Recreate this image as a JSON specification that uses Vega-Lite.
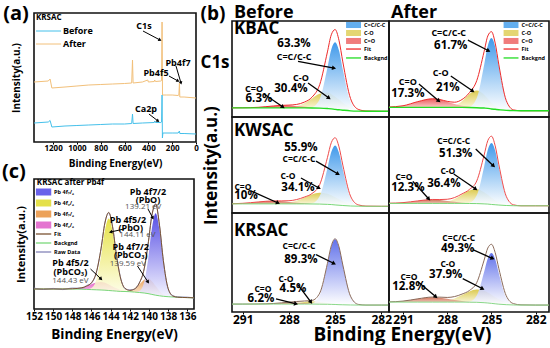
{
"$schema":"https://vega.github.io/schema/vega-lite/v6.json",
"background":"white",
"padding":{"left":1,"top":2,"right":0,"bottom":0},
"config":{
 "font":"Open Sans",
 "view":{"stroke":"#111111","strokeWidth":1.6},
 "axis":{"labelFontWeight":"bold","titleFontWeight":"bold","labelColor":"#000000","titleColor":"#000000","grid":false,"domain":false,"tickColor":"#000000","labelFlush":false,"labelOverlap":false},
 "text":{"fontWeight":"bold","color":"#000000"}
},
"datasets":{
 "surv":[
  {"s":"After","e":1360,"I":60},{"s":"After","e":1240,"I":61},{"s":"After","e":1225,"I":63},{"s":"After","e":1210,"I":54},{"s":"After","e":1100,"I":55},{"s":"After","e":1000,"I":56},{"s":"After","e":900,"I":57},{"s":"After","e":800,"I":57.5},{"s":"After","e":700,"I":58},{"s":"After","e":600,"I":58.5},{"s":"After","e":540,"I":59},{"s":"After","e":533,"I":82},{"s":"After","e":528,"I":59},{"s":"After","e":450,"I":60},{"s":"After","e":405,"I":62},{"s":"After","e":400,"I":60},{"s":"After","e":350,"I":60.5},{"s":"After","e":347,"I":62},{"s":"After","e":340,"I":60.5},{"s":"After","e":295,"I":61},{"s":"After","e":289,"I":61.5},{"s":"After","e":285,"I":120},{"s":"After","e":281,"I":47},{"s":"After","e":250,"I":47},{"s":"After","e":200,"I":47},{"s":"After","e":150,"I":46.5},{"s":"After","e":144,"I":47},{"s":"After","e":139,"I":59},{"s":"After","e":136,"I":45},{"s":"After","e":100,"I":45},{"s":"After","e":50,"I":44.5},{"s":"After","e":0,"I":44},
  {"s":"Before","e":1360,"I":19},{"s":"Before","e":1240,"I":20},{"s":"Before","e":1225,"I":21.5},{"s":"Before","e":1210,"I":15},{"s":"Before","e":1100,"I":16},{"s":"Before","e":1000,"I":16.5},{"s":"Before","e":900,"I":17},{"s":"Before","e":800,"I":17.5},{"s":"Before","e":700,"I":18},{"s":"Before","e":600,"I":18},{"s":"Before","e":540,"I":18.5},{"s":"Before","e":533,"I":28},{"s":"Before","e":528,"I":18.5},{"s":"Before","e":450,"I":19},{"s":"Before","e":350,"I":19.5},{"s":"Before","e":347,"I":21},{"s":"Before","e":340,"I":19.5},{"s":"Before","e":295,"I":19.5},{"s":"Before","e":289,"I":20},{"s":"Before","e":285,"I":47},{"s":"Before","e":282,"I":4},{"s":"Before","e":278,"I":9},{"s":"Before","e":200,"I":9},{"s":"Before","e":150,"I":9},{"s":"Before","e":139,"I":11},{"s":"Before","e":136,"I":8.5},{"s":"Before","e":100,"I":8.5},{"s":"Before","e":0,"I":8}
 ],
 "aann":[
  {"k":"big","t":"(a)","e":1511,"I":128.5},
  {"k":"lab","t":"KRSAC","e":1343,"I":124},
  {"k":"ann","t":"C1s","e":437,"I":116},
  {"k":"ann","t":"Pb4f7","e":151,"I":79},
  {"k":"ann","t":"Pb4f5","e":336,"I":69},
  {"k":"ann","t":"Ca2p","e":420,"I":33}
 ],
 "aleg":[{"s":"Before","I":111},{"s":"After","I":98}],
 "aarr":[
  {"e":445,"I":111,"e2":302,"I2":102,"a":118},
  {"e":168,"I":76,"e2":126,"I2":59,"a":164},
  {"e":227,"I":66,"e2":151,"I2":61,"a":119},
  {"e":395,"I":28,"e2":319,"I2":21,"a":128}
 ],
 "pb":[
  {"e":152,"bg":20,"y":20,"pk":20,"o":20,"b":20,"fit":20,"raw":21},
  {"e":151,"bg":20,"y":20,"pk":20,"o":20,"b":20,"fit":20,"raw":19.5},
  {"e":150,"bg":20,"y":20,"pk":20,"o":20,"b":20,"fit":20,"raw":20.6},
  {"e":149,"bg":20,"y":20,"pk":20,"o":20,"b":20,"fit":20,"raw":19.4},
  {"e":148,"bg":20,"y":20,"pk":20.2,"o":20,"b":20,"fit":20.2,"raw":21.0},
  {"e":147,"bg":19.8,"y":19.8,"pk":21.3,"o":19.8,"b":19.8,"fit":21.3,"raw":20.8},
  {"e":146.5,"bg":19.6,"y":19.7,"pk":22.8,"o":19.6,"b":19.6,"fit":22.9,"raw":23.5},
  {"e":146,"bg":19.4,"y":21.0,"pk":24.7,"o":19.4,"b":19.4,"fit":26.3,"raw":25.8},
  {"e":145.5,"bg":19.2,"y":28.9,"pk":26.4,"o":19.2,"b":19.2,"fit":36.1,"raw":36.8},
  {"e":145,"bg":19.0,"y":52.8,"pk":27.0,"o":19.0,"b":19.0,"fit":60.8,"raw":60.0},
  {"e":144.6,"bg":18.8,"y":78.4,"pk":26.3,"o":18.8,"b":18.8,"fit":85.9,"raw":86.5},
  {"e":144.2,"bg":18.5,"y":90.5,"pk":24.6,"o":18.5,"b":18.5,"fit":96.6,"raw":96.0},
  {"e":143.8,"bg":18.2,"y":77.8,"pk":22.6,"o":18.2,"b":18.2,"fit":82.2,"raw":82.8},
  {"e":143.4,"bg":17.9,"y":51.7,"pk":20.7,"o":17.9,"b":17.9,"fit":54.5,"raw":54.0},
  {"e":143,"bg":17.6,"y":30.7,"pk":19.1,"o":17.6,"b":17.6,"fit":32.2,"raw":32.8},
  {"e":142.5,"bg":17.5,"y":19.9,"pk":18.1,"o":17.7,"b":17.5,"fit":20.7,"raw":20.2},
  {"e":142,"bg":17.3,"y":17.5,"pk":17.5,"o":18.2,"b":17.3,"fit":18.6,"raw":19.2},
  {"e":141.5,"bg":16.9,"y":16.9,"pk":16.9,"o":20.1,"b":17.0,"fit":20.2,"raw":19.8},
  {"e":141,"bg":16.5,"y":16.5,"pk":16.5,"o":24.5,"b":18.0,"fit":26.0,"raw":26.5},
  {"e":140.5,"bg":16.0,"y":16.0,"pk":16.0,"o":29.2,"b":27.1,"fit":40.3,"raw":39.8},
  {"e":140.1,"bg":15.4,"y":15.4,"pk":15.4,"o":30.4,"b":49.1,"fit":64.1,"raw":64.6},
  {"e":139.7,"bg":14.6,"y":14.6,"pk":14.6,"o":27.8,"b":80.3,"fit":93.5,"raw":93.0},
  {"e":139.3,"bg":13.8,"y":13.8,"pk":13.8,"o":22.9,"b":95.8,"fit":104.9,"raw":105.4},
  {"e":138.9,"bg":13.2,"y":13.2,"pk":13.2,"o":18.1,"b":78.9,"fit":83.8,"raw":83.2},
  {"e":138.5,"bg":12.7,"y":12.7,"pk":12.7,"o":14.7,"b":46.4,"fit":48.4,"raw":48.9},
  {"e":138,"bg":12.3,"y":12.3,"pk":12.3,"o":12.8,"b":20.1,"fit":20.6,"raw":20.1},
  {"e":137.5,"bg":12.0,"y":12.0,"pk":12.0,"o":12.0,"b":12.9,"fit":12.9,"raw":13.4},
  {"e":137,"bg":11.8,"y":11.8,"pk":11.8,"o":11.8,"b":11.8,"fit":11.8,"raw":12.1},
  {"e":136,"bg":11.4,"y":11.4,"pk":11.4,"o":11.4,"b":11.4,"fit":11.4,"raw":11.9},
  {"e":135.3,"bg":11.2,"y":11.2,"pk":11.2,"o":11.2,"b":11.2,"fit":11.2,"raw":10.8}
 ],
 "cann":[
  {"k":"big","t":"(c)","e":154.1,"I":137},
  {"k":"title","t":"KRSAC after Pb4f","e":151.7,"I":126},
  {"k":"lab","t":"Pb 4f7/2","e":140.1,"I":117.5},
  {"k":"lab","t":"(PbO)","e":140.1,"I":109.5},
  {"k":"val","t":"139.21 eV","e":140.6,"I":102.5},
  {"k":"lab","t":"Pb 4f5/2","e":142.2,"I":89.5},
  {"k":"lab","t":"(PbO)","e":141.9,"I":81.5},
  {"k":"val","t":"144.11 eV","e":141.2,"I":74.5},
  {"k":"lab","t":"Pb 4f7/2","e":141.9,"I":62.5},
  {"k":"lab","t":"(PbCO₃)","e":141.9,"I":54.5},
  {"k":"val","t":"139.59 eV","e":142.2,"I":45.5},
  {"k":"lab","t":"Pb 4f5/2","e":148.2,"I":46.5},
  {"k":"lab","t":"(PbCO₃)","e":148.2,"I":37},
  {"k":"val","t":"144.43 eV","e":148.2,"I":28}
 ],
 "carr":[
  {"e":142.6,"I":80,"e2":144.0,"I2":77,"a":257},
  {"e":141.2,"I":43,"e2":140.1,"I2":27,"a":147},
  {"e":140.1,"I":100,"e2":139.6,"I2":91,"a":152},
  {"e":146.1,"I":40,"e2":145.0,"I2":30,"a":134}
 ],
 "cleg":[
  {"c":"b","n":"Pb 4f₇/₂","k":"area","I":117},
  {"c":"y","n":"Pb 4f₅/₂","k":"area","I":106},
  {"c":"o","n":"Pb 4f₇/₂","k":"area","I":95},
  {"c":"p","n":"Pb 4f₅/₂","k":"area","I":84},
  {"c":"fit","n":"Fit","k":"line","I":75},
  {"c":"bg","n":"Backgnd","k":"line","I":66},
  {"c":"raw","n":"Raw Data","k":"line","I":57}
 ],
 "c1s":[
  {"p":"P1","e":292,"bg":9.5,"cc":9.5,"co":9.5,"cdo":9.5,"fit":9.5},
  {"p":"P1","e":291,"bg":9.5,"cc":9.5,"co":9.5,"cdo":9.6,"fit":9.6},
  {"p":"P1","e":290,"bg":9.5,"cc":9.5,"co":9.5,"cdo":10.1,"fit":10.1},
  {"p":"P1","e":289,"bg":9.5,"cc":9.5,"co":9.5,"cdo":11.5,"fit":11.5},
  {"p":"P1","e":288.5,"bg":9.5,"cc":9.5,"co":9.6,"cdo":12.0,"fit":12.1},
  {"p":"P1","e":288,"bg":9.5,"cc":9.5,"co":10.0,"cdo":11.9,"fit":12.4},
  {"p":"P1","e":287.5,"bg":9.5,"cc":9.5,"co":11.3,"cdo":11.3,"fit":13.1},
  {"p":"P1","e":287,"bg":9.5,"cc":9.5,"co":14.4,"cdo":10.6,"fit":15.5},
  {"p":"P1","e":286.5,"bg":9.4,"cc":10.2,"co":19.4,"cdo":9.9,"fit":20.7},
  {"p":"P1","e":286,"bg":9.2,"cc":18.7,"co":24.2,"cdo":9.4,"fit":33.8},
  {"p":"P1","e":285.5,"bg":8.8,"cc":51.3,"co":25.2,"cdo":8.9,"fit":67.8},
  {"p":"P1","e":285.25,"bg":8.5,"cc":70.3,"co":23.8,"cdo":8.5,"fit":85.6},
  {"p":"P1","e":285,"bg":7.9,"cc":77.9,"co":21.1,"cdo":7.9,"fit":91.1},
  {"p":"P1","e":284.75,"bg":7.5,"cc":69.3,"co":18.1,"cdo":7.5,"fit":79.9},
  {"p":"P1","e":284.5,"bg":7.1,"cc":49.6,"co":14.9,"cdo":7.1,"fit":57.4},
  {"p":"P1","e":284,"bg":6.4,"cc":15.9,"co":9.8,"cdo":6.4,"fit":19.3},
  {"p":"P1","e":283.5,"bg":6.1,"cc":6.9,"co":7.2,"cdo":6.1,"fit":8.0},
  {"p":"P1","e":283,"bg":6.0,"cc":6.0,"co":6.3,"cdo":6.0,"fit":6.3},
  {"p":"P1","e":282,"bg":6,"cc":6,"co":6,"cdo":6,"fit":6},
  {"p":"P1","e":281,"bg":6,"cc":6,"co":6,"cdo":6,"fit":6},
  {"p":"P2","e":292,"bg":10,"cc":10,"co":10,"cdo":10.4,"fit":10.4},
  {"p":"P2","e":291,"bg":10,"cc":10,"co":10,"cdo":11.7,"fit":11.7},
  {"p":"P2","e":290,"bg":10,"cc":10,"co":10,"cdo":16.0,"fit":16.0},
  {"p":"P2","e":289,"bg":10,"cc":10,"co":10,"cdo":19.0,"fit":19.0},
  {"p":"P2","e":288.5,"bg":10,"cc":10,"co":10.0,"cdo":18.1,"fit":18.2},
  {"p":"P2","e":288,"bg":10,"cc":10,"co":10.3,"cdo":16.0,"fit":16.3},
  {"p":"P2","e":287.5,"bg":10,"cc":10,"co":11.8,"cdo":13.6,"fit":15.4},
  {"p":"P2","e":287,"bg":10,"cc":10,"co":16.5,"cdo":11.7,"fit":18.2},
  {"p":"P2","e":286.5,"bg":9.9,"cc":10.7,"co":23.9,"cdo":10.6,"fit":25.3},
  {"p":"P2","e":286,"bg":9.7,"cc":19.7,"co":27.7,"cdo":9.9,"fit":37.9},
  {"p":"P2","e":285.5,"bg":9.3,"cc":54.2,"co":23.3,"cdo":9.4,"fit":68.2},
  {"p":"P2","e":285.25,"bg":9.0,"cc":74.3,"co":19.1,"cdo":9.0,"fit":84.4},
  {"p":"P2","e":285,"bg":8.4,"cc":82.4,"co":14.9,"cdo":8.4,"fit":88.9},
  {"p":"P2","e":284.75,"bg":8.0,"cc":73.3,"co":11.7,"cdo":8.0,"fit":77.0},
  {"p":"P2","e":284.5,"bg":7.6,"cc":52.5,"co":9.4,"cdo":7.6,"fit":54.3},
  {"p":"P2","e":284,"bg":6.9,"cc":16.9,"co":7.2,"cdo":6.9,"fit":17.2},
  {"p":"P2","e":283.5,"bg":6.6,"cc":7.4,"co":6.6,"cdo":6.6,"fit":7.4},
  {"p":"P2","e":283,"bg":6.5,"cc":6.5,"co":6.5,"cdo":6.5,"fit":6.5},
  {"p":"P2","e":282,"bg":6.5,"cc":6.5,"co":6.5,"cdo":6.5,"fit":6.5},
  {"p":"P2","e":281,"bg":6.5,"cc":6.5,"co":6.5,"cdo":6.5,"fit":6.5},
  {"p":"P3","e":292,"bg":9.5,"cc":9.5,"co":9.5,"cdo":9.6,"fit":9.6},
  {"p":"P3","e":291,"bg":9.5,"cc":9.5,"co":9.5,"cdo":10.1,"fit":10.1},
  {"p":"P3","e":290,"bg":9.5,"cc":9.5,"co":9.5,"cdo":11.5,"fit":11.5},
  {"p":"P3","e":289,"bg":9.5,"cc":9.5,"co":9.6,"cdo":12.5,"fit":12.6},
  {"p":"P3","e":288.5,"bg":9.5,"cc":9.5,"co":9.9,"cdo":12.2,"fit":12.6},
  {"p":"P3","e":288,"bg":9.5,"cc":9.5,"co":10.8,"cdo":11.5,"fit":12.8},
  {"p":"P3","e":287.5,"bg":9.5,"cc":9.5,"co":12.8,"cdo":10.7,"fit":14.0},
  {"p":"P3","e":287,"bg":9.5,"cc":9.5,"co":16.1,"cdo":10.1,"fit":16.6},
  {"p":"P3","e":286.5,"bg":9.4,"cc":10.1,"co":19.4,"cdo":9.6,"fit":20.3},
  {"p":"P3","e":286,"bg":9.3,"cc":17.7,"co":21.2,"cdo":9.4,"fit":29.6},
  {"p":"P3","e":285.5,"bg":9.0,"cc":46.6,"co":20.1,"cdo":9.0,"fit":57.7},
  {"p":"P3","e":285.25,"bg":8.8,"cc":63.5,"co":18.5,"cdo":8.8,"fit":73.2},
  {"p":"P3","e":285,"bg":8.4,"cc":70.4,"co":16.4,"cdo":8.4,"fit":78.4},
  {"p":"P3","e":284.75,"bg":8.1,"cc":62.8,"co":14.2,"cdo":8.1,"fit":69.0},
  {"p":"P3","e":284.5,"bg":7.8,"cc":45.4,"co":12.3,"cdo":7.8,"fit":49.9},
  {"p":"P3","e":284,"bg":7.3,"cc":15.7,"co":9.3,"cdo":7.3,"fit":17.6},
  {"p":"P3","e":283.5,"bg":7.1,"cc":7.8,"co":7.8,"cdo":7.1,"fit":8.5},
  {"p":"P3","e":283,"bg":7.0,"cc":7.0,"co":7.2,"cdo":7.0,"fit":7.2},
  {"p":"P3","e":282,"bg":7,"cc":7,"co":7,"cdo":7,"fit":7},
  {"p":"P3","e":281,"bg":7,"cc":7,"co":7,"cdo":7,"fit":7},
  {"p":"P4","e":292,"bg":10,"cc":10,"co":10,"cdo":10.2,"fit":10.2},
  {"p":"P4","e":291,"bg":10,"cc":10,"co":10,"cdo":10.8,"fit":10.8},
  {"p":"P4","e":290,"bg":10,"cc":10,"co":10,"cdo":12.6,"fit":12.6},
  {"p":"P4","e":289,"bg":10,"cc":10,"co":10.1,"cdo":14.0,"fit":14.1},
  {"p":"P4","e":288.5,"bg":10,"cc":10,"co":10.4,"cdo":13.6,"fit":14.0},
  {"p":"P4","e":288,"bg":10,"cc":10,"co":11.6,"cdo":12.6,"fit":14.3},
  {"p":"P4","e":287.5,"bg":10,"cc":10,"co":14.5,"cdo":11.6,"fit":16.1},
  {"p":"P4","e":287,"bg":10,"cc":10,"co":19.1,"cdo":10.8,"fit":19.9},
  {"p":"P4","e":286.5,"bg":9.9,"cc":10.6,"co":23.5,"cdo":10.2,"fit":24.5},
  {"p":"P4","e":286,"bg":9.8,"cc":18.4,"co":24.7,"cdo":9.9,"fit":33.4},
  {"p":"P4","e":285.5,"bg":9.5,"cc":48.3,"co":21.5,"cdo":9.5,"fit":60.3},
  {"p":"P4","e":285.25,"bg":9.3,"cc":65.8,"co":18.9,"cdo":9.3,"fit":75.4},
  {"p":"P4","e":285,"bg":8.9,"cc":72.9,"co":16.0,"cdo":8.9,"fit":80.0},
  {"p":"P4","e":284.75,"bg":8.6,"cc":65.1,"co":13.4,"cdo":8.6,"fit":70.0},
  {"p":"P4","e":284.5,"bg":8.3,"cc":47.1,"co":11.3,"cdo":8.3,"fit":50.2},
  {"p":"P4","e":284,"bg":7.8,"cc":16.4,"co":8.8,"cdo":7.8,"fit":17.4},
  {"p":"P4","e":283.5,"bg":7.6,"cc":8.3,"co":7.8,"cdo":7.6,"fit":8.5},
  {"p":"P4","e":283,"bg":7.5,"cc":7.5,"co":7.5,"cdo":7.5,"fit":7.5},
  {"p":"P4","e":282,"bg":7.5,"cc":7.5,"co":7.5,"cdo":7.5,"fit":7.5},
  {"p":"P4","e":281,"bg":7.5,"cc":7.5,"co":7.5,"cdo":7.5,"fit":7.5},
  {"p":"P5","e":292,"bg":8,"cc":8,"co":8,"cdo":8,"fit":8},
  {"p":"P5","e":291,"bg":8,"cc":8,"co":8,"cdo":8,"fit":8},
  {"p":"P5","e":290,"bg":8,"cc":8,"co":8,"cdo":8.1,"fit":8.1},
  {"p":"P5","e":289,"bg":8,"cc":8,"co":8.0,"cdo":8.6,"fit":8.6},
  {"p":"P5","e":288.5,"bg":8,"cc":8,"co":8.1,"cdo":9.1,"fit":9.2},
  {"p":"P5","e":288,"bg":8,"cc":8,"co":8.4,"cdo":9.5,"fit":9.9},
  {"p":"P5","e":287.5,"bg":8,"cc":8,"co":9.2,"cdo":9.4,"fit":10.6},
  {"p":"P5","e":287,"bg":8,"cc":8,"co":10.1,"cdo":9.0,"fit":11.1},
  {"p":"P5","e":286.5,"bg":8.0,"cc":8.7,"co":10.5,"cdo":8.5,"fit":11.7},
  {"p":"P5","e":286,"bg":7.9,"cc":16.8,"co":10.0,"cdo":8.1,"fit":19.1},
  {"p":"P5","e":285.5,"bg":7.8,"cc":47.9,"co":9.0,"cdo":7.9,"fit":49.1},
  {"p":"P5","e":285.25,"bg":7.7,"cc":66.0,"co":8.4,"cdo":7.7,"fit":66.8},
  {"p":"P5","e":285,"bg":7.6,"cc":73.6,"co":8.0,"cdo":7.6,"fit":74.0},
  {"p":"P5","e":284.75,"bg":7.4,"cc":65.7,"co":7.6,"cdo":7.4,"fit":65.9},
  {"p":"P5","e":284.5,"bg":7.3,"cc":47.4,"co":7.4,"cdo":7.3,"fit":47.5},
  {"p":"P5","e":284,"bg":7.1,"cc":16.0,"co":7.1,"cdo":7.1,"fit":16.0},
  {"p":"P5","e":283.5,"bg":7.0,"cc":7.7,"co":7.0,"cdo":7.0,"fit":7.7},
  {"p":"P5","e":283,"bg":7,"cc":7,"co":7,"cdo":7,"fit":7},
  {"p":"P5","e":282,"bg":7,"cc":7,"co":7,"cdo":7,"fit":7},
  {"p":"P5","e":281,"bg":7,"cc":7,"co":7,"cdo":7,"fit":7},
  {"p":"P6","e":292,"bg":10,"cc":10,"co":10,"cdo":10.2,"fit":10.2},
  {"p":"P6","e":291,"bg":10,"cc":10,"co":10,"cdo":11.0,"fit":11.0},
  {"p":"P6","e":290,"bg":10,"cc":10,"co":10,"cdo":13.3,"fit":13.3},
  {"p":"P6","e":289,"bg":10,"cc":10,"co":10.1,"cdo":15.0,"fit":15.1},
  {"p":"P6","e":288.5,"bg":10,"cc":10,"co":10.4,"cdo":14.5,"fit":15.0},
  {"p":"P6","e":288,"bg":10,"cc":10,"co":11.4,"cdo":13.3,"fit":14.7},
  {"p":"P6","e":287.5,"bg":10,"cc":10,"co":13.6,"cdo":12.0,"fit":15.6},
  {"p":"P6","e":287,"bg":10,"cc":10,"co":17.1,"cdo":11.0,"fit":18.1},
  {"p":"P6","e":286.5,"bg":9.9,"cc":10.5,"co":20.8,"cdo":10.3,"fit":21.7},
  {"p":"P6","e":286,"bg":9.8,"cc":16.7,"co":22.7,"cdo":9.9,"fit":29.7},
  {"p":"P6","e":285.5,"bg":9.4,"cc":40.4,"co":21.4,"cdo":9.4,"fit":52.4},
  {"p":"P6","e":285.25,"bg":9.1,"cc":54.1,"co":19.6,"cdo":9.1,"fit":64.6},
  {"p":"P6","e":285,"bg":8.7,"cc":59.7,"co":17.3,"cdo":8.7,"fit":68.4},
  {"p":"P6","e":284.75,"bg":8.3,"cc":53.3,"co":15.0,"cdo":8.3,"fit":60.0},
  {"p":"P6","e":284.5,"bg":7.9,"cc":38.9,"co":12.8,"cdo":7.9,"fit":43.8},
  {"p":"P6","e":284,"bg":7.4,"cc":14.3,"co":9.5,"cdo":7.4,"fit":16.4},
  {"p":"P6","e":283.5,"bg":7.1,"cc":7.7,"co":7.9,"cdo":7.1,"fit":8.4},
  {"p":"P6","e":283,"bg":7.0,"cc":7.0,"co":7.2,"cdo":7.0,"fit":7.2},
  {"p":"P6","e":282,"bg":7,"cc":7,"co":7,"cdo":7,"fit":7},
  {"p":"P6","e":281,"bg":7,"cc":7,"co":7,"cdo":7,"fit":7}
 ],
 "bann":[
  {"p":"P1","k":"name","t":"KBAC","e":291.57,"y":92},
  {"p":"P1","k":"pct","t":"63.3%","e":287.67,"y":76},
  {"p":"P1","k":"lab","t":"C=C/C-C","e":287.67,"y":62.5},
  {"p":"P1","k":"lab","t":"C-O","e":287.22,"y":40.6},
  {"p":"P1","k":"pct","t":"30.4%","e":287.87,"y":29},
  {"p":"P1","k":"lab","t":"C=O","e":290.27,"y":29},
  {"p":"P1","k":"pct","t":"6.3%","e":289.95,"y":18.8},
  {"p":"P1","k":"head","t":"Before","e":291.57,"y":108},
  {"p":"P1","k":"big","t":"(b)","e":292.93,"y":107.5},
  {"p":"P1","k":"c1s","t":"C1s","e":292.8,"y":56},
  {"p":"P2","k":"head","t":"After","e":291.81,"y":108},
  {"p":"P2","k":"lab","t":"C=C/C-C","e":287.9,"y":87.5},
  {"p":"P2","k":"pct","t":"61.7%","e":287.76,"y":74},
  {"p":"P2","k":"lab","t":"C-O","e":288.44,"y":46},
  {"p":"P2","k":"pct","t":"21%","e":287.96,"y":30},
  {"p":"P2","k":"lab","t":"C=O","e":290.67,"y":36.5},
  {"p":"P2","k":"pct","t":"17.3%","e":290.67,"y":24},
  {"p":"P3","k":"name","t":"KWSAC","e":291.57,"y":85.4},
  {"p":"P3","k":"pct","t":"55.9%","e":287.22,"y":67.7},
  {"p":"P3","k":"lab","t":"C=C/C-C","e":287.35,"y":56},
  {"p":"P3","k":"lab","t":"C-O","e":288.06,"y":38.5},
  {"p":"P3","k":"pct","t":"34.1%","e":287.41,"y":26},
  {"p":"P3","k":"lab","t":"C=O","e":290.99,"y":27},
  {"p":"P3","k":"pct","t":"10%","e":290.79,"y":17.7},
  {"p":"P4","k":"lab","t":"C=C/C-C","e":287.56,"y":75},
  {"p":"P4","k":"pct","t":"51.3%","e":287.42,"y":61.5},
  {"p":"P4","k":"lab","t":"C-O","e":287.96,"y":43.75},
  {"p":"P4","k":"pct","t":"36.4%","e":288.23,"y":30},
  {"p":"P4","k":"lab","t":"C=O","e":290.94,"y":37.5},
  {"p":"P4","k":"pct","t":"12.3%","e":290.67,"y":26},
  {"p":"P5","k":"name","t":"KRSAC","e":291.57,"y":82},
  {"p":"P5","k":"lab","t":"C=C/C-C","e":287.35,"y":66.3},
  {"p":"P5","k":"pct","t":"89.3%","e":287.22,"y":53},
  {"p":"P5","k":"lab","t":"C-O","e":288.19,"y":33.7},
  {"p":"P5","k":"pct","t":"4.5%","e":287.74,"y":23.5},
  {"p":"P5","k":"lab","t":"C=O","e":289.69,"y":23.5},
  {"p":"P5","k":"pct","t":"6.2%","e":289.82,"y":13.3},
  {"p":"P6","k":"lab","t":"C=C/C-C","e":287.22,"y":74.5},
  {"p":"P6","k":"pct","t":"49.3%","e":287.29,"y":64},
  {"p":"P6","k":"lab","t":"C-O","e":287.96,"y":48},
  {"p":"P6","k":"pct","t":"37.9%","e":288.1,"y":37.8},
  {"p":"P6","k":"lab","t":"C=O","e":290.6,"y":35.7},
  {"p":"P6","k":"pct","t":"12.8%","e":290.6,"y":25.5}
 ],
 "barr":[
  {"p":"P1","e":287.41,"y":58,"e2":285.07,"y2":51,"a":100},
  {"p":"P1","e":286.76,"y":35.4,"e2":285.4,"y2":19.8,"a":126},
  {"p":"P1","e":289.62,"y":24,"e2":288.39,"y2":10.4,"a":125},
  {"p":"P2","e":286.6,"y":80,"e2":285.2,"y2":69,"a":117},
  {"p":"P2","e":287.76,"y":42.7,"e2":286.27,"y2":27,"a":124},
  {"p":"P2","e":289.92,"y":34.4,"e2":288.57,"y2":16.7,"a":130},
  {"p":"P3","e":286.24,"y":54,"e2":284.81,"y2":40.6,"a":120},
  {"p":"P3","e":287.22,"y":36.5,"e2":286.05,"y2":26,"a":119},
  {"p":"P3","e":290.47,"y":23,"e2":288.71,"y2":10.4,"a":114},
  {"p":"P4","e":286.07,"y":66.7,"e2":284.86,"y2":49,"a":133},
  {"p":"P4","e":287.56,"y":40.6,"e2":286.07,"y2":25,"a":124},
  {"p":"P4","e":290.33,"y":33,"e2":289.25,"y2":14.6,"a":138},
  {"p":"P5","e":286.24,"y":58,"e2":285.07,"y2":49,"a":116},
  {"p":"P5","e":287.41,"y":27.5,"e2":286.57,"y2":10,"a":143},
  {"p":"P5","e":288.84,"y":13.3,"e2":287.54,"y2":8.2,"a":104},
  {"p":"P6","e":286.27,"y":63,"e2":284.92,"y2":54,"a":114},
  {"p":"P6","e":286.95,"y":33.7,"e2":285.6,"y2":23.5,"a":117},
  {"p":"P6","e":289.99,"y":30.6,"e2":288.77,"y2":15.3,"a":130}
 ],
 "bleg":[
  {"c":"cc","n":"C=C/C-C","k":"area","y":95.8},
  {"c":"co","n":"C-O","k":"area","y":87.5},
  {"c":"cdo","n":"C=O","k":"area","y":79.2},
  {"c":"fit","n":"Fit","k":"line","y":70.8},
  {"c":"bg","n":"Backgnd","k":"line","y":61.5}
 ]
},
"resolve":{"scale":{"color":"independent"}},
"concat":[
 {"vconcat":[
  {"width":162,"height":129,
   "layer":[
    {"data":{"name":"surv"},"mark":{"type":"line","strokeWidth":1,"clip":true},
     "encoding":{"x":{"field":"e","type":"quantitative","scale":{"domain":[0,1360],"reverse":true,"nice":false,"zero":false},"axis":{"values":[1200,1000,800,600,400,200,0],"format":"d","title":"Binding Energy(eV)","labelFontSize":8,"titleFontSize":10,"tickSize":2,"labelPadding":0,"titlePadding":6}},
      "y":{"field":"I","type":"quantitative","scale":{"domain":[0,129],"nice":false,"zero":false},"axis":{"title":"Intensity(a.u.)","labels":false,"ticks":false,"titleFontSize":10,"titlePadding":13}},
      "color":{"field":"s","type":"nominal","scale":{"domain":["Before","After"],"range":["#45c0ea","#f2c07a"]},"legend":null}}},
    {"data":{"name":"aleg"},"mark":{"type":"rule","strokeWidth":1},
     "encoding":{"x":{"datum":1343,"type":"quantitative","scale":{"domain":[0,1360],"reverse":true,"nice":false,"zero":false},"axis":{"values":[1200,1000,800,600,400,200,0],"format":"d","title":"Binding Energy(eV)","labelFontSize":8,"titleFontSize":10,"tickSize":2,"labelPadding":0,"titlePadding":6}},"x2":{"datum":1133},
      "y":{"field":"I","type":"quantitative","scale":{"domain":[0,129],"nice":false,"zero":false},"axis":{"title":"Intensity(a.u.)","labels":false,"ticks":false,"titleFontSize":10,"titlePadding":13}},
      "color":{"field":"s","type":"nominal","scale":{"domain":["Before","After"],"range":["#45c0ea","#f2c07a"]},"legend":null}}},
    {"data":{"name":"aleg"},"mark":{"type":"text","align":"left","baseline":"middle","fontSize":9},
     "encoding":{"x":{"datum":1117,"type":"quantitative","scale":{"domain":[0,1360],"reverse":true,"nice":false,"zero":false},"axis":{"values":[1200,1000,800,600,400,200,0],"format":"d","title":"Binding Energy(eV)","labelFontSize":8,"titleFontSize":10,"tickSize":2,"labelPadding":0,"titlePadding":6}},
      "y":{"field":"I","type":"quantitative","scale":{"domain":[0,129],"nice":false,"zero":false},"axis":{"title":"Intensity(a.u.)","labels":false,"ticks":false,"titleFontSize":10,"titlePadding":13}},"text":{"field":"s"}}},
    {"data":{"name":"aann"},"transform":[{"filter":"datum.k=='ann'"}],"mark":{"type":"text","align":"center","baseline":"middle","fontSize":9},
     "encoding":{"x":{"field":"e","type":"quantitative","scale":{"domain":[0,1360],"reverse":true,"nice":false,"zero":false},"axis":{"values":[1200,1000,800,600,400,200,0],"format":"d","title":"Binding Energy(eV)","labelFontSize":8,"titleFontSize":10,"tickSize":2,"labelPadding":0,"titlePadding":6}},
      "y":{"field":"I","type":"quantitative","scale":{"domain":[0,129],"nice":false,"zero":false},"axis":{"title":"Intensity(a.u.)","labels":false,"ticks":false,"titleFontSize":10,"titlePadding":13}},"text":{"field":"t"}}},
    {"data":{"name":"aann"},"transform":[{"filter":"datum.k=='lab'"}],"mark":{"type":"text","align":"left","baseline":"middle","fontSize":8},
     "encoding":{"x":{"field":"e","type":"quantitative","scale":{"domain":[0,1360],"reverse":true,"nice":false,"zero":false},"axis":{"values":[1200,1000,800,600,400,200,0],"format":"d","title":"Binding Energy(eV)","labelFontSize":8,"titleFontSize":10,"tickSize":2,"labelPadding":0,"titlePadding":6}},
      "y":{"field":"I","type":"quantitative","scale":{"domain":[0,129],"nice":false,"zero":false},"axis":{"title":"Intensity(a.u.)","labels":false,"ticks":false,"titleFontSize":10,"titlePadding":13}},"text":{"field":"t"}}},
    {"data":{"name":"aann"},"transform":[{"filter":"datum.k=='big'"}],"mark":{"type":"text","align":"center","baseline":"middle","fontSize":20},
     "encoding":{"x":{"field":"e","type":"quantitative","scale":{"domain":[0,1360],"reverse":true,"nice":false,"zero":false},"axis":{"values":[1200,1000,800,600,400,200,0],"format":"d","title":"Binding Energy(eV)","labelFontSize":8,"titleFontSize":10,"tickSize":2,"labelPadding":0,"titlePadding":6}},
      "y":{"field":"I","type":"quantitative","scale":{"domain":[0,129],"nice":false,"zero":false},"axis":{"title":"Intensity(a.u.)","labels":false,"ticks":false,"titleFontSize":10,"titlePadding":13}},"text":{"field":"t"}}},
    {"data":{"name":"aarr"},"mark":{"type":"rule","strokeWidth":1,"color":"#000000"},
     "encoding":{"x":{"field":"e","type":"quantitative","scale":{"domain":[0,1360],"reverse":true,"nice":false,"zero":false},"axis":{"values":[1200,1000,800,600,400,200,0],"format":"d","title":"Binding Energy(eV)","labelFontSize":8,"titleFontSize":10,"tickSize":2,"labelPadding":0,"titlePadding":6}},"x2":{"field":"e2"},
      "y":{"field":"I","type":"quantitative","scale":{"domain":[0,129],"nice":false,"zero":false},"axis":{"title":"Intensity(a.u.)","labels":false,"ticks":false,"titleFontSize":10,"titlePadding":13}},"y2":{"field":"I2"}}},
    {"data":{"name":"aarr"},"mark":{"type":"point","shape":"triangle-up","filled":true,"size":14,"color":"#000000","opacity":1},
     "encoding":{"x":{"field":"e2","type":"quantitative","scale":{"domain":[0,1360],"reverse":true,"nice":false,"zero":false},"axis":{"values":[1200,1000,800,600,400,200,0],"format":"d","title":"Binding Energy(eV)","labelFontSize":8,"titleFontSize":10,"tickSize":2,"labelPadding":0,"titlePadding":6}},
      "y":{"field":"I2","type":"quantitative","scale":{"domain":[0,129],"nice":false,"zero":false},"axis":{"title":"Intensity(a.u.)","labels":false,"ticks":false,"titleFontSize":10,"titlePadding":13}},"angle":{"field":"a","type":"quantitative","scale":null}}}
   ]},
  {"width":160,"height":130,
   "layer":[
    {"data":{"name":"pb"},"mark":{"type":"area","interpolate":"monotone","opacity":0.85,"clip":true,"fill":{"gradient":"linear","x1":0,"y1":0,"x2":0,"y2":1,"stops":[{"offset":0,"color":"#e048c0"},{"offset":1,"color":"#fff0fb"}]}},
     "encoding":{"x":{"field":"e","type":"quantitative","scale":{"domain":[135.3,152],"reverse":true,"nice":false,"zero":false},"axis":{"values":[152,150,148,146,144,142,140,138,136],"title":"Binding Energy(eV)","labelFontSize":10,"titleFontSize":13.5,"tickSize":2,"labelPadding":0,"titlePadding":6}},
      "y":{"field":"pk","type":"quantitative","scale":{"domain":[0,130],"nice":false,"zero":false},"axis":{"title":"Intensity(a.u.)","labels":false,"ticks":false,"titleFontSize":11,"titlePadding":8}},"y2":{"field":"bg"}}},
    {"data":{"name":"pb"},"mark":{"type":"area","interpolate":"monotone","opacity":0.85,"clip":true,"fill":{"gradient":"linear","x1":0,"y1":0,"x2":0,"y2":1,"stops":[{"offset":0,"color":"#e8903a"},{"offset":1,"color":"#fff6ea"}]}},
     "encoding":{"x":{"field":"e","type":"quantitative","scale":{"domain":[135.3,152],"reverse":true,"nice":false,"zero":false},"axis":{"values":[152,150,148,146,144,142,140,138,136],"title":"Binding Energy(eV)","labelFontSize":10,"titleFontSize":13.5,"tickSize":2,"labelPadding":0,"titlePadding":6}},
      "y":{"field":"o","type":"quantitative","scale":{"domain":[0,130],"nice":false,"zero":false},"axis":{"title":"Intensity(a.u.)","labels":false,"ticks":false,"titleFontSize":11,"titlePadding":8}},"y2":{"field":"bg"}}},
    {"data":{"name":"pb"},"mark":{"type":"area","interpolate":"monotone","opacity":0.85,"clip":true,"fill":{"gradient":"linear","x1":0,"y1":0,"x2":0,"y2":1,"stops":[{"offset":0,"color":"#e2dc28"},{"offset":1,"color":"#fffff0"}]}},
     "encoding":{"x":{"field":"e","type":"quantitative","scale":{"domain":[135.3,152],"reverse":true,"nice":false,"zero":false},"axis":{"values":[152,150,148,146,144,142,140,138,136],"title":"Binding Energy(eV)","labelFontSize":10,"titleFontSize":13.5,"tickSize":2,"labelPadding":0,"titlePadding":6}},
      "y":{"field":"y","type":"quantitative","scale":{"domain":[0,130],"nice":false,"zero":false},"axis":{"title":"Intensity(a.u.)","labels":false,"ticks":false,"titleFontSize":11,"titlePadding":8}},"y2":{"field":"bg"}}},
    {"data":{"name":"pb"},"mark":{"type":"area","interpolate":"monotone","opacity":0.85,"clip":true,"fill":{"gradient":"linear","x1":0,"y1":0,"x2":0,"y2":1,"stops":[{"offset":0,"color":"#3a30e0"},{"offset":1,"color":"#f4f4ff"}]}},
     "encoding":{"x":{"field":"e","type":"quantitative","scale":{"domain":[135.3,152],"reverse":true,"nice":false,"zero":false},"axis":{"values":[152,150,148,146,144,142,140,138,136],"title":"Binding Energy(eV)","labelFontSize":10,"titleFontSize":13.5,"tickSize":2,"labelPadding":0,"titlePadding":6}},
      "y":{"field":"b","type":"quantitative","scale":{"domain":[0,130],"nice":false,"zero":false},"axis":{"title":"Intensity(a.u.)","labels":false,"ticks":false,"titleFontSize":11,"titlePadding":8}},"y2":{"field":"bg"}}},
    {"data":{"name":"pb"},"mark":{"type":"line","interpolate":"monotone","stroke":"#7ad87a","strokeWidth":1,"clip":true},
     "encoding":{"x":{"field":"e","type":"quantitative","scale":{"domain":[135.3,152],"reverse":true,"nice":false,"zero":false},"axis":{"values":[152,150,148,146,144,142,140,138,136],"title":"Binding Energy(eV)","labelFontSize":10,"titleFontSize":13.5,"tickSize":2,"labelPadding":0,"titlePadding":6}},
      "y":{"field":"bg","type":"quantitative","scale":{"domain":[0,130],"nice":false,"zero":false},"axis":{"title":"Intensity(a.u.)","labels":false,"ticks":false,"titleFontSize":11,"titlePadding":8}}}},
    {"data":{"name":"pb"},"mark":{"type":"line","interpolate":"monotone","stroke":"#8484b8","strokeWidth":0.8,"clip":true},
     "encoding":{"x":{"field":"e","type":"quantitative","scale":{"domain":[135.3,152],"reverse":true,"nice":false,"zero":false},"axis":{"values":[152,150,148,146,144,142,140,138,136],"title":"Binding Energy(eV)","labelFontSize":10,"titleFontSize":13.5,"tickSize":2,"labelPadding":0,"titlePadding":6}},
      "y":{"field":"raw","type":"quantitative","scale":{"domain":[0,130],"nice":false,"zero":false},"axis":{"title":"Intensity(a.u.)","labels":false,"ticks":false,"titleFontSize":11,"titlePadding":8}}}},
    {"data":{"name":"pb"},"mark":{"type":"line","interpolate":"monotone","stroke":"#7a5232","strokeWidth":1,"clip":true},
     "encoding":{"x":{"field":"e","type":"quantitative","scale":{"domain":[135.3,152],"reverse":true,"nice":false,"zero":false},"axis":{"values":[152,150,148,146,144,142,140,138,136],"title":"Binding Energy(eV)","labelFontSize":10,"titleFontSize":13.5,"tickSize":2,"labelPadding":0,"titlePadding":6}},
      "y":{"field":"fit","type":"quantitative","scale":{"domain":[0,130],"nice":false,"zero":false},"axis":{"title":"Intensity(a.u.)","labels":false,"ticks":false,"titleFontSize":11,"titlePadding":8}}}},
    {"data":{"name":"cann"},"transform":[{"filter":"datum.k=='big'"}],"mark":{"type":"text","align":"center","baseline":"middle","fontSize":20},
     "encoding":{"x":{"field":"e","type":"quantitative","scale":{"domain":[135.3,152],"reverse":true,"nice":false,"zero":false},"axis":{"values":[152,150,148,146,144,142,140,138,136],"title":"Binding Energy(eV)","labelFontSize":10,"titleFontSize":13.5,"tickSize":2,"labelPadding":0,"titlePadding":6}},
      "y":{"field":"I","type":"quantitative","scale":{"domain":[0,130],"nice":false,"zero":false},"axis":{"title":"Intensity(a.u.)","labels":false,"ticks":false,"titleFontSize":11,"titlePadding":8}},"text":{"field":"t"}}},
    {"data":{"name":"cann"},"transform":[{"filter":"datum.k=='title'"}],"mark":{"type":"text","align":"left","baseline":"middle","fontSize":8},
     "encoding":{"x":{"field":"e","type":"quantitative","scale":{"domain":[135.3,152],"reverse":true,"nice":false,"zero":false},"axis":{"values":[152,150,148,146,144,142,140,138,136],"title":"Binding Energy(eV)","labelFontSize":10,"titleFontSize":13.5,"tickSize":2,"labelPadding":0,"titlePadding":6}},
      "y":{"field":"I","type":"quantitative","scale":{"domain":[0,130],"nice":false,"zero":false},"axis":{"title":"Intensity(a.u.)","labels":false,"ticks":false,"titleFontSize":11,"titlePadding":8}},"text":{"field":"t"}}},
    {"data":{"name":"cann"},"transform":[{"filter":"datum.k=='lab'"}],"mark":{"type":"text","align":"center","baseline":"middle","fontSize":9},
     "encoding":{"x":{"field":"e","type":"quantitative","scale":{"domain":[135.3,152],"reverse":true,"nice":false,"zero":false},"axis":{"values":[152,150,148,146,144,142,140,138,136],"title":"Binding Energy(eV)","labelFontSize":10,"titleFontSize":13.5,"tickSize":2,"labelPadding":0,"titlePadding":6}},
      "y":{"field":"I","type":"quantitative","scale":{"domain":[0,130],"nice":false,"zero":false},"axis":{"title":"Intensity(a.u.)","labels":false,"ticks":false,"titleFontSize":11,"titlePadding":8}},"text":{"field":"t"}}},
    {"data":{"name":"cann"},"transform":[{"filter":"datum.k=='val'"}],"mark":{"type":"text","align":"center","baseline":"middle","fontSize":8,"fontWeight":"normal","color":"#555555"},
     "encoding":{"x":{"field":"e","type":"quantitative","scale":{"domain":[135.3,152],"reverse":true,"nice":false,"zero":false},"axis":{"values":[152,150,148,146,144,142,140,138,136],"title":"Binding Energy(eV)","labelFontSize":10,"titleFontSize":13.5,"tickSize":2,"labelPadding":0,"titlePadding":6}},
      "y":{"field":"I","type":"quantitative","scale":{"domain":[0,130],"nice":false,"zero":false},"axis":{"title":"Intensity(a.u.)","labels":false,"ticks":false,"titleFontSize":11,"titlePadding":8}},"text":{"field":"t"}}},
    {"data":{"name":"carr"},"mark":{"type":"rule","strokeWidth":1,"color":"#000000"},
     "encoding":{"x":{"field":"e","type":"quantitative","scale":{"domain":[135.3,152],"reverse":true,"nice":false,"zero":false},"axis":{"values":[152,150,148,146,144,142,140,138,136],"title":"Binding Energy(eV)","labelFontSize":10,"titleFontSize":13.5,"tickSize":2,"labelPadding":0,"titlePadding":6}},"x2":{"field":"e2"},
      "y":{"field":"I","type":"quantitative","scale":{"domain":[0,130],"nice":false,"zero":false},"axis":{"title":"Intensity(a.u.)","labels":false,"ticks":false,"titleFontSize":11,"titlePadding":8}},"y2":{"field":"I2"}}},
    {"data":{"name":"carr"},"mark":{"type":"point","shape":"triangle-up","filled":true,"size":16,"color":"#000000","opacity":1},
     "encoding":{"x":{"field":"e2","type":"quantitative","scale":{"domain":[135.3,152],"reverse":true,"nice":false,"zero":false},"axis":{"values":[152,150,148,146,144,142,140,138,136],"title":"Binding Energy(eV)","labelFontSize":10,"titleFontSize":13.5,"tickSize":2,"labelPadding":0,"titlePadding":6}},
      "y":{"field":"I2","type":"quantitative","scale":{"domain":[0,130],"nice":false,"zero":false},"axis":{"title":"Intensity(a.u.)","labels":false,"ticks":false,"titleFontSize":11,"titlePadding":8}},"angle":{"field":"a","type":"quantitative","scale":null}}},
    {"data":{"name":"cleg"},"transform":[{"filter":"datum.k=='area'"}],"mark":{"type":"rule","strokeWidth":7},
     "encoding":{"x":{"datum":151.8,"type":"quantitative","scale":{"domain":[135.3,152],"reverse":true,"nice":false,"zero":false},"axis":{"values":[152,150,148,146,144,142,140,138,136],"title":"Binding Energy(eV)","labelFontSize":10,"titleFontSize":13.5,"tickSize":2,"labelPadding":0,"titlePadding":6}},"x2":{"datum":150.2},
      "y":{"field":"I","type":"quantitative","scale":{"domain":[0,130],"nice":false,"zero":false},"axis":{"title":"Intensity(a.u.)","labels":false,"ticks":false,"titleFontSize":11,"titlePadding":8}},
      "color":{"field":"c","type":"nominal","scale":{"domain":["b","y","o","p","fit","bg","raw"],"range":["#6a62ea","#e4e04a","#eca25a","#e474d0","#7a5232","#7ad87a","#8484b8"]},"legend":null}}},
    {"data":{"name":"cleg"},"transform":[{"filter":"datum.k=='line'"}],"mark":{"type":"rule","strokeWidth":1.3},
     "encoding":{"x":{"datum":151.8,"type":"quantitative","scale":{"domain":[135.3,152],"reverse":true,"nice":false,"zero":false},"axis":{"values":[152,150,148,146,144,142,140,138,136],"title":"Binding Energy(eV)","labelFontSize":10,"titleFontSize":13.5,"tickSize":2,"labelPadding":0,"titlePadding":6}},"x2":{"datum":150.2},
      "y":{"field":"I","type":"quantitative","scale":{"domain":[0,130],"nice":false,"zero":false},"axis":{"title":"Intensity(a.u.)","labels":false,"ticks":false,"titleFontSize":11,"titlePadding":8}},
      "color":{"field":"c","type":"nominal","scale":{"domain":["b","y","o","p","fit","bg","raw"],"range":["#6a62ea","#e4e04a","#eca25a","#e474d0","#7a5232","#7ad87a","#8484b8"]},"legend":null}}},
    {"data":{"name":"cleg"},"mark":{"type":"text","align":"left","baseline":"middle","fontSize":5.5},
     "encoding":{"x":{"datum":149.9,"type":"quantitative","scale":{"domain":[135.3,152],"reverse":true,"nice":false,"zero":false},"axis":{"values":[152,150,148,146,144,142,140,138,136],"title":"Binding Energy(eV)","labelFontSize":10,"titleFontSize":13.5,"tickSize":2,"labelPadding":0,"titlePadding":6}},
      "y":{"field":"I","type":"quantitative","scale":{"domain":[0,130],"nice":false,"zero":false},"axis":{"title":"Intensity(a.u.)","labels":false,"ticks":false,"titleFontSize":11,"titlePadding":8}},"text":{"field":"n"}}}
   ]}
 ],"spacing":37,"bounds":"flush","resolve":{"scale":{"color":"independent"}}},
 {"concat":[
  {"width":157,"height":8,"view":{"stroke":null},"data":{"values":[{"a":0}]},"mark":{"type":"point","opacity":0},"encoding":{}},
  {"width":160,"height":8,"view":{"stroke":null},"data":{"values":[{"a":0}]},"mark":{"type":"point","opacity":0},"encoding":{}},
  {"width":157,"height":96,
   "layer":[
    {"data":{"name":"c1s"},"transform":[{"filter":"datum.p=='P1'"}],"mark":{"type":"area","interpolate":"monotone","opacity":0.9,"clip":true,"fill":{"gradient":"linear","x1":0,"y1":0,"x2":0,"y2":1,"stops":[{"offset":0,"color":"#d8c43c"},{"offset":1,"color":"#fffef0"}]}},
     "encoding":{"x":{"field":"e","type":"quantitative","scale":{"domain":[281.5,291.7],"reverse":true,"nice":false,"zero":false},"axis":null},"y":{"field":"co","type":"quantitative","scale":{"domain":[0,100],"nice":false,"zero":false},"axis":null},"y2":{"field":"bg"}}},
    {"data":{"name":"c1s"},"transform":[{"filter":"datum.p=='P1'"}],"mark":{"type":"area","interpolate":"monotone","opacity":0.85,"clip":true,"fill":{"gradient":"linear","x1":0,"y1":0,"x2":0,"y2":1,"stops":[{"offset":0,"color":"#e84040"},{"offset":1,"color":"#fff2f2"}]}},
     "encoding":{"x":{"field":"e","type":"quantitative","scale":{"domain":[281.5,291.7],"reverse":true,"nice":false,"zero":false},"axis":null},"y":{"field":"cdo","type":"quantitative","scale":{"domain":[0,100],"nice":false,"zero":false},"axis":null},"y2":{"field":"bg"}}},
    {"data":{"name":"c1s"},"transform":[{"filter":"datum.p=='P1'"}],"mark":{"type":"area","interpolate":"monotone","opacity":0.9,"clip":true,"fill":{"gradient":"linear","x1":0,"y1":0,"x2":0,"y2":1,"stops":[{"offset":0,"color":"#2b8ee8"},{"offset":1,"color":"#ffffff"}]}},
     "encoding":{"x":{"field":"e","type":"quantitative","scale":{"domain":[281.5,291.7],"reverse":true,"nice":false,"zero":false},"axis":null},"y":{"field":"cc","type":"quantitative","scale":{"domain":[0,100],"nice":false,"zero":false},"axis":null},"y2":{"field":"bg"}}},
    {"data":{"name":"c1s"},"transform":[{"filter":"datum.p=='P1'"}],"mark":{"type":"line","interpolate":"monotone","stroke":"#ee2a2a","strokeWidth":1,"clip":true},
     "encoding":{"x":{"field":"e","type":"quantitative","scale":{"domain":[281.5,291.7],"reverse":true,"nice":false,"zero":false},"axis":null},"y":{"field":"fit","type":"quantitative","scale":{"domain":[0,100],"nice":false,"zero":false},"axis":null}}},
    {"data":{"name":"c1s"},"transform":[{"filter":"datum.p=='P1'"}],"mark":{"type":"line","interpolate":"monotone","stroke":"#22dd22","strokeWidth":1.4,"clip":true},
     "encoding":{"x":{"field":"e","type":"quantitative","scale":{"domain":[281.5,291.7],"reverse":true,"nice":false,"zero":false},"axis":null},"y":{"field":"bg","type":"quantitative","scale":{"domain":[0,100],"nice":false,"zero":false},"axis":null}}},
    {"data":{"name":"bann"},"transform":[{"filter":"datum.p=='P1' && datum.k=='name'"}],"mark":{"type":"text","align":"left","baseline":"middle","fontSize":17},
     "encoding":{"x":{"field":"e","type":"quantitative","scale":{"domain":[281.5,291.7],"reverse":true,"nice":false,"zero":false},"axis":null},"y":{"field":"y","type":"quantitative","scale":{"domain":[0,100],"nice":false,"zero":false},"axis":null},"text":{"field":"t"}}},
    {"data":{"name":"bann"},"transform":[{"filter":"datum.p=='P1' && datum.k=='pct'"}],"mark":{"type":"text","align":"center","baseline":"middle","fontSize":11.5},
     "encoding":{"x":{"field":"e","type":"quantitative","scale":{"domain":[281.5,291.7],"reverse":true,"nice":false,"zero":false},"axis":null},"y":{"field":"y","type":"quantitative","scale":{"domain":[0,100],"nice":false,"zero":false},"axis":null},"text":{"field":"t"}}},
    {"data":{"name":"bann"},"transform":[{"filter":"datum.p=='P1' && datum.k=='lab'"}],"mark":{"type":"text","align":"center","baseline":"middle","fontSize":9},
     "encoding":{"x":{"field":"e","type":"quantitative","scale":{"domain":[281.5,291.7],"reverse":true,"nice":false,"zero":false},"axis":null},"y":{"field":"y","type":"quantitative","scale":{"domain":[0,100],"nice":false,"zero":false},"axis":null},"text":{"field":"t"}}},
    {"data":{"name":"bann"},"transform":[{"filter":"datum.p=='P1' && datum.k=='head'"}],"mark":{"type":"text","align":"left","baseline":"middle","fontSize":18},
     "encoding":{"x":{"field":"e","type":"quantitative","scale":{"domain":[281.5,291.7],"reverse":true,"nice":false,"zero":false},"axis":null},"y":{"field":"y","type":"quantitative","scale":{"domain":[0,100],"nice":false,"zero":false},"axis":null},"text":{"field":"t"}}},
    {"data":{"name":"bann"},"transform":[{"filter":"datum.p=='P1' && datum.k=='big'"}],"mark":{"type":"text","align":"center","baseline":"middle","fontSize":19},
     "encoding":{"x":{"field":"e","type":"quantitative","scale":{"domain":[281.5,291.7],"reverse":true,"nice":false,"zero":false},"axis":null},"y":{"field":"y","type":"quantitative","scale":{"domain":[0,100],"nice":false,"zero":false},"axis":null},"text":{"field":"t"}}},
    {"data":{"name":"bann"},"transform":[{"filter":"datum.p=='P1' && datum.k=='c1s'"}],"mark":{"type":"text","align":"center","baseline":"middle","fontSize":17},
     "encoding":{"x":{"field":"e","type":"quantitative","scale":{"domain":[281.5,291.7],"reverse":true,"nice":false,"zero":false},"axis":null},"y":{"field":"y","type":"quantitative","scale":{"domain":[0,100],"nice":false,"zero":false},"axis":null},"text":{"field":"t"}}},
    {"data":{"name":"barr"},"transform":[{"filter":"datum.p=='P1'"}],"mark":{"type":"rule","strokeWidth":1.3,"color":"#000000"},
     "encoding":{"x":{"field":"e","type":"quantitative","scale":{"domain":[281.5,291.7],"reverse":true,"nice":false,"zero":false},"axis":null},"x2":{"field":"e2"},"y":{"field":"y","type":"quantitative","scale":{"domain":[0,100],"nice":false,"zero":false},"axis":null},"y2":{"field":"y2"}}},
    {"data":{"name":"barr"},"transform":[{"filter":"datum.p=='P1'"}],"mark":{"type":"point","shape":"triangle-up","filled":true,"size":22,"color":"#000000","opacity":1},
     "encoding":{"x":{"field":"e2","type":"quantitative","scale":{"domain":[281.5,291.7],"reverse":true,"nice":false,"zero":false},"axis":null},"y":{"field":"y2","type":"quantitative","scale":{"domain":[0,100],"nice":false,"zero":false},"axis":null},"angle":{"field":"a","type":"quantitative","scale":null}}},
    {"data":{"name":"bleg"},"transform":[{"filter":"datum.k=='area'"}],"mark":{"type":"rule","strokeWidth":6},
     "encoding":{"x":{"datum":284.29,"type":"quantitative","scale":{"domain":[281.5,291.7],"reverse":true,"nice":false,"zero":false},"axis":null},"x2":{"datum":283.32},"y":{"field":"y","type":"quantitative","scale":{"domain":[0,100],"nice":false,"zero":false},"axis":null},
      "color":{"field":"c","type":"nominal","scale":{"domain":["cc","co","cdo","fit","bg"],"range":["#62aef0","#e4d672","#f07c7c","#ee2a2a","#22dd22"]},"legend":null}}},
    {"data":{"name":"bleg"},"transform":[{"filter":"datum.k=='line'"}],"mark":{"type":"rule","strokeWidth":1.3},
     "encoding":{"x":{"datum":284.29,"type":"quantitative","scale":{"domain":[281.5,291.7],"reverse":true,"nice":false,"zero":false},"axis":null},"x2":{"datum":283.32},"y":{"field":"y","type":"quantitative","scale":{"domain":[0,100],"nice":false,"zero":false},"axis":null},
      "color":{"field":"c","type":"nominal","scale":{"domain":["cc","co","cdo","fit","bg"],"range":["#62aef0","#e4d672","#f07c7c","#ee2a2a","#22dd22"]},"legend":null}}},
    {"data":{"name":"bleg"},"mark":{"type":"text","align":"left","baseline":"middle","fontSize":5.5},
     "encoding":{"x":{"datum":283.12,"type":"quantitative","scale":{"domain":[281.5,291.7],"reverse":true,"nice":false,"zero":false},"axis":null},"y":{"field":"y","type":"quantitative","scale":{"domain":[0,100],"nice":false,"zero":false},"axis":null},"text":{"field":"n"}}}
   ]},
  {"width":160,"height":96,
   "layer":[
    {"data":{"name":"c1s"},"transform":[{"filter":"datum.p=='P2'"}],"mark":{"type":"area","interpolate":"monotone","opacity":0.9,"clip":true,"fill":{"gradient":"linear","x1":0,"y1":0,"x2":0,"y2":1,"stops":[{"offset":0,"color":"#d8c43c"},{"offset":1,"color":"#fffef0"}]}},
     "encoding":{"x":{"field":"e","type":"quantitative","scale":{"domain":[281.1,291.95],"reverse":true,"nice":false,"zero":false},"axis":null},"y":{"field":"co","type":"quantitative","scale":{"domain":[0,100],"nice":false,"zero":false},"axis":null},"y2":{"field":"bg"}}},
    {"data":{"name":"c1s"},"transform":[{"filter":"datum.p=='P2'"}],"mark":{"type":"area","interpolate":"monotone","opacity":0.85,"clip":true,"fill":{"gradient":"linear","x1":0,"y1":0,"x2":0,"y2":1,"stops":[{"offset":0,"color":"#e84040"},{"offset":1,"color":"#fff2f2"}]}},
     "encoding":{"x":{"field":"e","type":"quantitative","scale":{"domain":[281.1,291.95],"reverse":true,"nice":false,"zero":false},"axis":null},"y":{"field":"cdo","type":"quantitative","scale":{"domain":[0,100],"nice":false,"zero":false},"axis":null},"y2":{"field":"bg"}}},
    {"data":{"name":"c1s"},"transform":[{"filter":"datum.p=='P2'"}],"mark":{"type":"area","interpolate":"monotone","opacity":0.9,"clip":true,"fill":{"gradient":"linear","x1":0,"y1":0,"x2":0,"y2":1,"stops":[{"offset":0,"color":"#2b8ee8"},{"offset":1,"color":"#ffffff"}]}},
     "encoding":{"x":{"field":"e","type":"quantitative","scale":{"domain":[281.1,291.95],"reverse":true,"nice":false,"zero":false},"axis":null},"y":{"field":"cc","type":"quantitative","scale":{"domain":[0,100],"nice":false,"zero":false},"axis":null},"y2":{"field":"bg"}}},
    {"data":{"name":"c1s"},"transform":[{"filter":"datum.p=='P2'"}],"mark":{"type":"line","interpolate":"monotone","stroke":"#ee2a2a","strokeWidth":1,"clip":true},
     "encoding":{"x":{"field":"e","type":"quantitative","scale":{"domain":[281.1,291.95],"reverse":true,"nice":false,"zero":false},"axis":null},"y":{"field":"fit","type":"quantitative","scale":{"domain":[0,100],"nice":false,"zero":false},"axis":null}}},
    {"data":{"name":"c1s"},"transform":[{"filter":"datum.p=='P2'"}],"mark":{"type":"line","interpolate":"monotone","stroke":"#22dd22","strokeWidth":1.4,"clip":true},
     "encoding":{"x":{"field":"e","type":"quantitative","scale":{"domain":[281.1,291.95],"reverse":true,"nice":false,"zero":false},"axis":null},"y":{"field":"bg","type":"quantitative","scale":{"domain":[0,100],"nice":false,"zero":false},"axis":null}}},
    {"data":{"name":"bann"},"transform":[{"filter":"datum.p=='P2' && datum.k=='pct'"}],"mark":{"type":"text","align":"center","baseline":"middle","fontSize":11.5},
     "encoding":{"x":{"field":"e","type":"quantitative","scale":{"domain":[281.1,291.95],"reverse":true,"nice":false,"zero":false},"axis":null},"y":{"field":"y","type":"quantitative","scale":{"domain":[0,100],"nice":false,"zero":false},"axis":null},"text":{"field":"t"}}},
    {"data":{"name":"bann"},"transform":[{"filter":"datum.p=='P2' && datum.k=='lab'"}],"mark":{"type":"text","align":"center","baseline":"middle","fontSize":9},
     "encoding":{"x":{"field":"e","type":"quantitative","scale":{"domain":[281.1,291.95],"reverse":true,"nice":false,"zero":false},"axis":null},"y":{"field":"y","type":"quantitative","scale":{"domain":[0,100],"nice":false,"zero":false},"axis":null},"text":{"field":"t"}}},
    {"data":{"name":"bann"},"transform":[{"filter":"datum.p=='P2' && datum.k=='head'"}],"mark":{"type":"text","align":"left","baseline":"middle","fontSize":18},
     "encoding":{"x":{"field":"e","type":"quantitative","scale":{"domain":[281.1,291.95],"reverse":true,"nice":false,"zero":false},"axis":null},"y":{"field":"y","type":"quantitative","scale":{"domain":[0,100],"nice":false,"zero":false},"axis":null},"text":{"field":"t"}}},
    {"data":{"name":"barr"},"transform":[{"filter":"datum.p=='P2'"}],"mark":{"type":"rule","strokeWidth":1.3,"color":"#000000"},
     "encoding":{"x":{"field":"e","type":"quantitative","scale":{"domain":[281.1,291.95],"reverse":true,"nice":false,"zero":false},"axis":null},"x2":{"field":"e2"},"y":{"field":"y","type":"quantitative","scale":{"domain":[0,100],"nice":false,"zero":false},"axis":null},"y2":{"field":"y2"}}},
    {"data":{"name":"barr"},"transform":[{"filter":"datum.p=='P2'"}],"mark":{"type":"point","shape":"triangle-up","filled":true,"size":22,"color":"#000000","opacity":1},
     "encoding":{"x":{"field":"e2","type":"quantitative","scale":{"domain":[281.1,291.95],"reverse":true,"nice":false,"zero":false},"axis":null},"y":{"field":"y2","type":"quantitative","scale":{"domain":[0,100],"nice":false,"zero":false},"axis":null},"angle":{"field":"a","type":"quantitative","scale":null}}},
    {"data":{"name":"bleg"},"transform":[{"filter":"datum.k=='area'"}],"mark":{"type":"rule","strokeWidth":6},
     "encoding":{"x":{"datum":284.18,"type":"quantitative","scale":{"domain":[281.1,291.95],"reverse":true,"nice":false,"zero":false},"axis":null},"x2":{"datum":283.17},"y":{"field":"y","type":"quantitative","scale":{"domain":[0,100],"nice":false,"zero":false},"axis":null},
      "color":{"field":"c","type":"nominal","scale":{"domain":["cc","co","cdo","fit","bg"],"range":["#62aef0","#e4d672","#f07c7c","#ee2a2a","#22dd22"]},"legend":null}}},
    {"data":{"name":"bleg"},"transform":[{"filter":"datum.k=='line'"}],"mark":{"type":"rule","strokeWidth":1.3},
     "encoding":{"x":{"datum":284.18,"type":"quantitative","scale":{"domain":[281.1,291.95],"reverse":true,"nice":false,"zero":false},"axis":null},"x2":{"datum":283.17},"y":{"field":"y","type":"quantitative","scale":{"domain":[0,100],"nice":false,"zero":false},"axis":null},
      "color":{"field":"c","type":"nominal","scale":{"domain":["cc","co","cdo","fit","bg"],"range":["#62aef0","#e4d672","#f07c7c","#ee2a2a","#22dd22"]},"legend":null}}},
    {"data":{"name":"bleg"},"mark":{"type":"text","align":"left","baseline":"middle","fontSize":5.5},
     "encoding":{"x":{"datum":282.96,"type":"quantitative","scale":{"domain":[281.1,291.95],"reverse":true,"nice":false,"zero":false},"axis":null},"y":{"field":"y","type":"quantitative","scale":{"domain":[0,100],"nice":false,"zero":false},"axis":null},"text":{"field":"n"}}}
   ]},
  {"width":157,"height":96,
   "layer":[
    {"data":{"name":"c1s"},"transform":[{"filter":"datum.p=='P3'"}],"mark":{"type":"area","interpolate":"monotone","opacity":0.9,"clip":true,"fill":{"gradient":"linear","x1":0,"y1":0,"x2":0,"y2":1,"stops":[{"offset":0,"color":"#d8c43c"},{"offset":1,"color":"#fffef0"}]}},
     "encoding":{"x":{"field":"e","type":"quantitative","scale":{"domain":[281.5,291.7],"reverse":true,"nice":false,"zero":false},"axis":null},"y":{"field":"co","type":"quantitative","scale":{"domain":[0,100],"nice":false,"zero":false},"axis":{"title":"Intensity(a.u.)","labels":false,"ticks":false,"titleFontSize":17,"titlePadding":12}},"y2":{"field":"bg"}}},
    {"data":{"name":"c1s"},"transform":[{"filter":"datum.p=='P3'"}],"mark":{"type":"area","interpolate":"monotone","opacity":0.85,"clip":true,"fill":{"gradient":"linear","x1":0,"y1":0,"x2":0,"y2":1,"stops":[{"offset":0,"color":"#c85a3a"},{"offset":1,"color":"#fff2ee"}]}},
     "encoding":{"x":{"field":"e","type":"quantitative","scale":{"domain":[281.5,291.7],"reverse":true,"nice":false,"zero":false},"axis":null},"y":{"field":"cdo","type":"quantitative","scale":{"domain":[0,100],"nice":false,"zero":false},"axis":{"title":"Intensity(a.u.)","labels":false,"ticks":false,"titleFontSize":17,"titlePadding":12}},"y2":{"field":"bg"}}},
    {"data":{"name":"c1s"},"transform":[{"filter":"datum.p=='P3'"}],"mark":{"type":"area","interpolate":"monotone","opacity":0.9,"clip":true,"fill":{"gradient":"linear","x1":0,"y1":0,"x2":0,"y2":1,"stops":[{"offset":0,"color":"#2b8ee8"},{"offset":1,"color":"#ffffff"}]}},
     "encoding":{"x":{"field":"e","type":"quantitative","scale":{"domain":[281.5,291.7],"reverse":true,"nice":false,"zero":false},"axis":null},"y":{"field":"cc","type":"quantitative","scale":{"domain":[0,100],"nice":false,"zero":false},"axis":{"title":"Intensity(a.u.)","labels":false,"ticks":false,"titleFontSize":17,"titlePadding":12}},"y2":{"field":"bg"}}},
    {"data":{"name":"c1s"},"transform":[{"filter":"datum.p=='P3'"}],"mark":{"type":"line","interpolate":"monotone","stroke":"#ee4a4a","strokeWidth":1,"clip":true},
     "encoding":{"x":{"field":"e","type":"quantitative","scale":{"domain":[281.5,291.7],"reverse":true,"nice":false,"zero":false},"axis":null},"y":{"field":"fit","type":"quantitative","scale":{"domain":[0,100],"nice":false,"zero":false},"axis":{"title":"Intensity(a.u.)","labels":false,"ticks":false,"titleFontSize":17,"titlePadding":12}}}},
    {"data":{"name":"c1s"},"transform":[{"filter":"datum.p=='P3'"}],"mark":{"type":"line","interpolate":"monotone","stroke":"#7ad87a","strokeWidth":1,"clip":true},
     "encoding":{"x":{"field":"e","type":"quantitative","scale":{"domain":[281.5,291.7],"reverse":true,"nice":false,"zero":false},"axis":null},"y":{"field":"bg","type":"quantitative","scale":{"domain":[0,100],"nice":false,"zero":false},"axis":{"title":"Intensity(a.u.)","labels":false,"ticks":false,"titleFontSize":17,"titlePadding":12}}}},
    {"data":{"name":"bann"},"transform":[{"filter":"datum.p=='P3' && datum.k=='name'"}],"mark":{"type":"text","align":"left","baseline":"middle","fontSize":17},
     "encoding":{"x":{"field":"e","type":"quantitative","scale":{"domain":[281.5,291.7],"reverse":true,"nice":false,"zero":false},"axis":null},"y":{"field":"y","type":"quantitative","scale":{"domain":[0,100],"nice":false,"zero":false},"axis":{"title":"Intensity(a.u.)","labels":false,"ticks":false,"titleFontSize":17,"titlePadding":12}},"text":{"field":"t"}}},
    {"data":{"name":"bann"},"transform":[{"filter":"datum.p=='P3' && datum.k=='pct'"}],"mark":{"type":"text","align":"center","baseline":"middle","fontSize":11.5},
     "encoding":{"x":{"field":"e","type":"quantitative","scale":{"domain":[281.5,291.7],"reverse":true,"nice":false,"zero":false},"axis":null},"y":{"field":"y","type":"quantitative","scale":{"domain":[0,100],"nice":false,"zero":false},"axis":{"title":"Intensity(a.u.)","labels":false,"ticks":false,"titleFontSize":17,"titlePadding":12}},"text":{"field":"t"}}},
    {"data":{"name":"bann"},"transform":[{"filter":"datum.p=='P3' && datum.k=='lab'"}],"mark":{"type":"text","align":"center","baseline":"middle","fontSize":8.5},
     "encoding":{"x":{"field":"e","type":"quantitative","scale":{"domain":[281.5,291.7],"reverse":true,"nice":false,"zero":false},"axis":null},"y":{"field":"y","type":"quantitative","scale":{"domain":[0,100],"nice":false,"zero":false},"axis":{"title":"Intensity(a.u.)","labels":false,"ticks":false,"titleFontSize":17,"titlePadding":12}},"text":{"field":"t"}}},
    {"data":{"name":"barr"},"transform":[{"filter":"datum.p=='P3'"}],"mark":{"type":"rule","strokeWidth":1.3,"color":"#000000"},
     "encoding":{"x":{"field":"e","type":"quantitative","scale":{"domain":[281.5,291.7],"reverse":true,"nice":false,"zero":false},"axis":null},"x2":{"field":"e2"},"y":{"field":"y","type":"quantitative","scale":{"domain":[0,100],"nice":false,"zero":false},"axis":{"title":"Intensity(a.u.)","labels":false,"ticks":false,"titleFontSize":17,"titlePadding":12}},"y2":{"field":"y2"}}},
    {"data":{"name":"barr"},"transform":[{"filter":"datum.p=='P3'"}],"mark":{"type":"point","shape":"triangle-up","filled":true,"size":22,"color":"#000000","opacity":1},
     "encoding":{"x":{"field":"e2","type":"quantitative","scale":{"domain":[281.5,291.7],"reverse":true,"nice":false,"zero":false},"axis":null},"y":{"field":"y2","type":"quantitative","scale":{"domain":[0,100],"nice":false,"zero":false},"axis":{"title":"Intensity(a.u.)","labels":false,"ticks":false,"titleFontSize":17,"titlePadding":12}},"angle":{"field":"a","type":"quantitative","scale":null}}}
   ]},
  {"width":160,"height":96,
   "layer":[
    {"data":{"name":"c1s"},"transform":[{"filter":"datum.p=='P4'"}],"mark":{"type":"area","interpolate":"monotone","opacity":0.9,"clip":true,"fill":{"gradient":"linear","x1":0,"y1":0,"x2":0,"y2":1,"stops":[{"offset":0,"color":"#d8c43c"},{"offset":1,"color":"#fffef0"}]}},
     "encoding":{"x":{"field":"e","type":"quantitative","scale":{"domain":[281.1,291.95],"reverse":true,"nice":false,"zero":false},"axis":null},"y":{"field":"co","type":"quantitative","scale":{"domain":[0,100],"nice":false,"zero":false},"axis":null},"y2":{"field":"bg"}}},
    {"data":{"name":"c1s"},"transform":[{"filter":"datum.p=='P4'"}],"mark":{"type":"area","interpolate":"monotone","opacity":0.85,"clip":true,"fill":{"gradient":"linear","x1":0,"y1":0,"x2":0,"y2":1,"stops":[{"offset":0,"color":"#c85a3a"},{"offset":1,"color":"#fff2ee"}]}},
     "encoding":{"x":{"field":"e","type":"quantitative","scale":{"domain":[281.1,291.95],"reverse":true,"nice":false,"zero":false},"axis":null},"y":{"field":"cdo","type":"quantitative","scale":{"domain":[0,100],"nice":false,"zero":false},"axis":null},"y2":{"field":"bg"}}},
    {"data":{"name":"c1s"},"transform":[{"filter":"datum.p=='P4'"}],"mark":{"type":"area","interpolate":"monotone","opacity":0.9,"clip":true,"fill":{"gradient":"linear","x1":0,"y1":0,"x2":0,"y2":1,"stops":[{"offset":0,"color":"#2b8ee8"},{"offset":1,"color":"#ffffff"}]}},
     "encoding":{"x":{"field":"e","type":"quantitative","scale":{"domain":[281.1,291.95],"reverse":true,"nice":false,"zero":false},"axis":null},"y":{"field":"cc","type":"quantitative","scale":{"domain":[0,100],"nice":false,"zero":false},"axis":null},"y2":{"field":"bg"}}},
    {"data":{"name":"c1s"},"transform":[{"filter":"datum.p=='P4'"}],"mark":{"type":"line","interpolate":"monotone","stroke":"#ee4a4a","strokeWidth":1,"clip":true},
     "encoding":{"x":{"field":"e","type":"quantitative","scale":{"domain":[281.1,291.95],"reverse":true,"nice":false,"zero":false},"axis":null},"y":{"field":"fit","type":"quantitative","scale":{"domain":[0,100],"nice":false,"zero":false},"axis":null}}},
    {"data":{"name":"c1s"},"transform":[{"filter":"datum.p=='P4'"}],"mark":{"type":"line","interpolate":"monotone","stroke":"#7ad87a","strokeWidth":1,"clip":true},
     "encoding":{"x":{"field":"e","type":"quantitative","scale":{"domain":[281.1,291.95],"reverse":true,"nice":false,"zero":false},"axis":null},"y":{"field":"bg","type":"quantitative","scale":{"domain":[0,100],"nice":false,"zero":false},"axis":null}}},
    {"data":{"name":"bann"},"transform":[{"filter":"datum.p=='P4' && datum.k=='pct'"}],"mark":{"type":"text","align":"center","baseline":"middle","fontSize":11.5},
     "encoding":{"x":{"field":"e","type":"quantitative","scale":{"domain":[281.1,291.95],"reverse":true,"nice":false,"zero":false},"axis":null},"y":{"field":"y","type":"quantitative","scale":{"domain":[0,100],"nice":false,"zero":false},"axis":null},"text":{"field":"t"}}},
    {"data":{"name":"bann"},"transform":[{"filter":"datum.p=='P4' && datum.k=='lab'"}],"mark":{"type":"text","align":"center","baseline":"middle","fontSize":8.5},
     "encoding":{"x":{"field":"e","type":"quantitative","scale":{"domain":[281.1,291.95],"reverse":true,"nice":false,"zero":false},"axis":null},"y":{"field":"y","type":"quantitative","scale":{"domain":[0,100],"nice":false,"zero":false},"axis":null},"text":{"field":"t"}}},
    {"data":{"name":"barr"},"transform":[{"filter":"datum.p=='P4'"}],"mark":{"type":"rule","strokeWidth":1.3,"color":"#000000"},
     "encoding":{"x":{"field":"e","type":"quantitative","scale":{"domain":[281.1,291.95],"reverse":true,"nice":false,"zero":false},"axis":null},"x2":{"field":"e2"},"y":{"field":"y","type":"quantitative","scale":{"domain":[0,100],"nice":false,"zero":false},"axis":null},"y2":{"field":"y2"}}},
    {"data":{"name":"barr"},"transform":[{"filter":"datum.p=='P4'"}],"mark":{"type":"point","shape":"triangle-up","filled":true,"size":22,"color":"#000000","opacity":1},
     "encoding":{"x":{"field":"e2","type":"quantitative","scale":{"domain":[281.1,291.95],"reverse":true,"nice":false,"zero":false},"axis":null},"y":{"field":"y2","type":"quantitative","scale":{"domain":[0,100],"nice":false,"zero":false},"axis":null},"angle":{"field":"a","type":"quantitative","scale":null}}}
   ]},
  {"width":157,"height":99,
   "layer":[
    {"data":{"name":"c1s"},"transform":[{"filter":"datum.p=='P5'"}],"mark":{"type":"area","interpolate":"monotone","opacity":0.9,"clip":true,"fill":{"gradient":"linear","x1":0,"y1":0,"x2":0,"y2":1,"stops":[{"offset":0,"color":"#d8c43c"},{"offset":1,"color":"#fffef0"}]}},
     "encoding":{"x":{"field":"e","type":"quantitative","scale":{"domain":[281.5,291.7],"reverse":true,"nice":false,"zero":false},"axis":{"values":[291,288,285,282],"title":"Binding Energy(eV)","labelFontSize":12,"titleFontSize":19,"tickSize":2,"labelPadding":0,"titlePadding":0,"titleX":170}},"y":{"field":"co","type":"quantitative","scale":{"domain":[0,100],"nice":false,"zero":false},"axis":null},"y2":{"field":"bg"}}},
    {"data":{"name":"c1s"},"transform":[{"filter":"datum.p=='P5'"}],"mark":{"type":"area","interpolate":"monotone","opacity":0.85,"clip":true,"fill":{"gradient":"linear","x1":0,"y1":0,"x2":0,"y2":1,"stops":[{"offset":0,"color":"#c85a3a"},{"offset":1,"color":"#fff2ee"}]}},
     "encoding":{"x":{"field":"e","type":"quantitative","scale":{"domain":[281.5,291.7],"reverse":true,"nice":false,"zero":false},"axis":{"values":[291,288,285,282],"title":"Binding Energy(eV)","labelFontSize":12,"titleFontSize":19,"tickSize":2,"labelPadding":0,"titlePadding":0,"titleX":170}},"y":{"field":"cdo","type":"quantitative","scale":{"domain":[0,100],"nice":false,"zero":false},"axis":null},"y2":{"field":"bg"}}},
    {"data":{"name":"c1s"},"transform":[{"filter":"datum.p=='P5'"}],"mark":{"type":"area","interpolate":"monotone","opacity":0.9,"clip":true,"fill":{"gradient":"linear","x1":0,"y1":0,"x2":0,"y2":1,"stops":[{"offset":0,"color":"#5062e8"},{"offset":1,"color":"#ffffff"}]}},
     "encoding":{"x":{"field":"e","type":"quantitative","scale":{"domain":[281.5,291.7],"reverse":true,"nice":false,"zero":false},"axis":{"values":[291,288,285,282],"title":"Binding Energy(eV)","labelFontSize":12,"titleFontSize":19,"tickSize":2,"labelPadding":0,"titlePadding":0,"titleX":170}},"y":{"field":"cc","type":"quantitative","scale":{"domain":[0,100],"nice":false,"zero":false},"axis":null},"y2":{"field":"bg"}}},
    {"data":{"name":"c1s"},"transform":[{"filter":"datum.p=='P5'"}],"mark":{"type":"line","interpolate":"monotone","stroke":"#8a6a5a","strokeWidth":1,"clip":true},
     "encoding":{"x":{"field":"e","type":"quantitative","scale":{"domain":[281.5,291.7],"reverse":true,"nice":false,"zero":false},"axis":{"values":[291,288,285,282],"title":"Binding Energy(eV)","labelFontSize":12,"titleFontSize":19,"tickSize":2,"labelPadding":0,"titlePadding":0,"titleX":170}},"y":{"field":"fit","type":"quantitative","scale":{"domain":[0,100],"nice":false,"zero":false},"axis":null}}},
    {"data":{"name":"c1s"},"transform":[{"filter":"datum.p=='P5'"}],"mark":{"type":"line","interpolate":"monotone","stroke":"#8ad88a","strokeWidth":1,"clip":true},
     "encoding":{"x":{"field":"e","type":"quantitative","scale":{"domain":[281.5,291.7],"reverse":true,"nice":false,"zero":false},"axis":{"values":[291,288,285,282],"title":"Binding Energy(eV)","labelFontSize":12,"titleFontSize":19,"tickSize":2,"labelPadding":0,"titlePadding":0,"titleX":170}},"y":{"field":"bg","type":"quantitative","scale":{"domain":[0,100],"nice":false,"zero":false},"axis":null}}},
    {"data":{"name":"bann"},"transform":[{"filter":"datum.p=='P5' && datum.k=='name'"}],"mark":{"type":"text","align":"left","baseline":"middle","fontSize":17},
     "encoding":{"x":{"field":"e","type":"quantitative","scale":{"domain":[281.5,291.7],"reverse":true,"nice":false,"zero":false},"axis":{"values":[291,288,285,282],"title":"Binding Energy(eV)","labelFontSize":12,"titleFontSize":19,"tickSize":2,"labelPadding":0,"titlePadding":0,"titleX":170}},"y":{"field":"y","type":"quantitative","scale":{"domain":[0,100],"nice":false,"zero":false},"axis":null},"text":{"field":"t"}}},
    {"data":{"name":"bann"},"transform":[{"filter":"datum.p=='P5' && datum.k=='pct'"}],"mark":{"type":"text","align":"center","baseline":"middle","fontSize":11.5},
     "encoding":{"x":{"field":"e","type":"quantitative","scale":{"domain":[281.5,291.7],"reverse":true,"nice":false,"zero":false},"axis":{"values":[291,288,285,282],"title":"Binding Energy(eV)","labelFontSize":12,"titleFontSize":19,"tickSize":2,"labelPadding":0,"titlePadding":0,"titleX":170}},"y":{"field":"y","type":"quantitative","scale":{"domain":[0,100],"nice":false,"zero":false},"axis":null},"text":{"field":"t"}}},
    {"data":{"name":"bann"},"transform":[{"filter":"datum.p=='P5' && datum.k=='lab'"}],"mark":{"type":"text","align":"center","baseline":"middle","fontSize":8.5},
     "encoding":{"x":{"field":"e","type":"quantitative","scale":{"domain":[281.5,291.7],"reverse":true,"nice":false,"zero":false},"axis":{"values":[291,288,285,282],"title":"Binding Energy(eV)","labelFontSize":12,"titleFontSize":19,"tickSize":2,"labelPadding":0,"titlePadding":0,"titleX":170}},"y":{"field":"y","type":"quantitative","scale":{"domain":[0,100],"nice":false,"zero":false},"axis":null},"text":{"field":"t"}}},
    {"data":{"name":"barr"},"transform":[{"filter":"datum.p=='P5'"}],"mark":{"type":"rule","strokeWidth":1.3,"color":"#000000"},
     "encoding":{"x":{"field":"e","type":"quantitative","scale":{"domain":[281.5,291.7],"reverse":true,"nice":false,"zero":false},"axis":{"values":[291,288,285,282],"title":"Binding Energy(eV)","labelFontSize":12,"titleFontSize":19,"tickSize":2,"labelPadding":0,"titlePadding":0,"titleX":170}},"x2":{"field":"e2"},"y":{"field":"y","type":"quantitative","scale":{"domain":[0,100],"nice":false,"zero":false},"axis":null},"y2":{"field":"y2"}}},
    {"data":{"name":"barr"},"transform":[{"filter":"datum.p=='P5'"}],"mark":{"type":"point","shape":"triangle-up","filled":true,"size":22,"color":"#000000","opacity":1},
     "encoding":{"x":{"field":"e2","type":"quantitative","scale":{"domain":[281.5,291.7],"reverse":true,"nice":false,"zero":false},"axis":{"values":[291,288,285,282],"title":"Binding Energy(eV)","labelFontSize":12,"titleFontSize":19,"tickSize":2,"labelPadding":0,"titlePadding":0,"titleX":170}},"y":{"field":"y2","type":"quantitative","scale":{"domain":[0,100],"nice":false,"zero":false},"axis":null},"angle":{"field":"a","type":"quantitative","scale":null}}}
   ]},
  {"width":160,"height":99,
   "layer":[
    {"data":{"name":"c1s"},"transform":[{"filter":"datum.p=='P6'"}],"mark":{"type":"area","interpolate":"monotone","opacity":0.9,"clip":true,"fill":{"gradient":"linear","x1":0,"y1":0,"x2":0,"y2":1,"stops":[{"offset":0,"color":"#d8c43c"},{"offset":1,"color":"#fffef0"}]}},
     "encoding":{"x":{"field":"e","type":"quantitative","scale":{"domain":[281.1,291.95],"reverse":true,"nice":false,"zero":false},"axis":{"values":[291,288,285,282],"title":null,"labelFontSize":12,"tickSize":2,"labelPadding":0}},"y":{"field":"co","type":"quantitative","scale":{"domain":[0,100],"nice":false,"zero":false},"axis":null},"y2":{"field":"bg"}}},
    {"data":{"name":"c1s"},"transform":[{"filter":"datum.p=='P6'"}],"mark":{"type":"area","interpolate":"monotone","opacity":0.85,"clip":true,"fill":{"gradient":"linear","x1":0,"y1":0,"x2":0,"y2":1,"stops":[{"offset":0,"color":"#c85a3a"},{"offset":1,"color":"#fff2ee"}]}},
     "encoding":{"x":{"field":"e","type":"quantitative","scale":{"domain":[281.1,291.95],"reverse":true,"nice":false,"zero":false},"axis":{"values":[291,288,285,282],"title":null,"labelFontSize":12,"tickSize":2,"labelPadding":0}},"y":{"field":"cdo","type":"quantitative","scale":{"domain":[0,100],"nice":false,"zero":false},"axis":null},"y2":{"field":"bg"}}},
    {"data":{"name":"c1s"},"transform":[{"filter":"datum.p=='P6'"}],"mark":{"type":"area","interpolate":"monotone","opacity":0.9,"clip":true,"fill":{"gradient":"linear","x1":0,"y1":0,"x2":0,"y2":1,"stops":[{"offset":0,"color":"#5062e8"},{"offset":1,"color":"#ffffff"}]}},
     "encoding":{"x":{"field":"e","type":"quantitative","scale":{"domain":[281.1,291.95],"reverse":true,"nice":false,"zero":false},"axis":{"values":[291,288,285,282],"title":null,"labelFontSize":12,"tickSize":2,"labelPadding":0}},"y":{"field":"cc","type":"quantitative","scale":{"domain":[0,100],"nice":false,"zero":false},"axis":null},"y2":{"field":"bg"}}},
    {"data":{"name":"c1s"},"transform":[{"filter":"datum.p=='P6'"}],"mark":{"type":"line","interpolate":"monotone","stroke":"#8a6a5a","strokeWidth":1,"clip":true},
     "encoding":{"x":{"field":"e","type":"quantitative","scale":{"domain":[281.1,291.95],"reverse":true,"nice":false,"zero":false},"axis":{"values":[291,288,285,282],"title":null,"labelFontSize":12,"tickSize":2,"labelPadding":0}},"y":{"field":"fit","type":"quantitative","scale":{"domain":[0,100],"nice":false,"zero":false},"axis":null}}},
    {"data":{"name":"c1s"},"transform":[{"filter":"datum.p=='P6'"}],"mark":{"type":"line","interpolate":"monotone","stroke":"#8ad88a","strokeWidth":1,"clip":true},
     "encoding":{"x":{"field":"e","type":"quantitative","scale":{"domain":[281.1,291.95],"reverse":true,"nice":false,"zero":false},"axis":{"values":[291,288,285,282],"title":null,"labelFontSize":12,"tickSize":2,"labelPadding":0}},"y":{"field":"bg","type":"quantitative","scale":{"domain":[0,100],"nice":false,"zero":false},"axis":null}}},
    {"data":{"name":"bann"},"transform":[{"filter":"datum.p=='P6' && datum.k=='pct'"}],"mark":{"type":"text","align":"center","baseline":"middle","fontSize":11.5},
     "encoding":{"x":{"field":"e","type":"quantitative","scale":{"domain":[281.1,291.95],"reverse":true,"nice":false,"zero":false},"axis":{"values":[291,288,285,282],"title":null,"labelFontSize":12,"tickSize":2,"labelPadding":0}},"y":{"field":"y","type":"quantitative","scale":{"domain":[0,100],"nice":false,"zero":false},"axis":null},"text":{"field":"t"}}},
    {"data":{"name":"bann"},"transform":[{"filter":"datum.p=='P6' && datum.k=='lab'"}],"mark":{"type":"text","align":"center","baseline":"middle","fontSize":8.5},
     "encoding":{"x":{"field":"e","type":"quantitative","scale":{"domain":[281.1,291.95],"reverse":true,"nice":false,"zero":false},"axis":{"values":[291,288,285,282],"title":null,"labelFontSize":12,"tickSize":2,"labelPadding":0}},"y":{"field":"y","type":"quantitative","scale":{"domain":[0,100],"nice":false,"zero":false},"axis":null},"text":{"field":"t"}}},
    {"data":{"name":"barr"},"transform":[{"filter":"datum.p=='P6'"}],"mark":{"type":"rule","strokeWidth":1.3,"color":"#000000"},
     "encoding":{"x":{"field":"e","type":"quantitative","scale":{"domain":[281.1,291.95],"reverse":true,"nice":false,"zero":false},"axis":{"values":[291,288,285,282],"title":null,"labelFontSize":12,"tickSize":2,"labelPadding":0}},"x2":{"field":"e2"},"y":{"field":"y","type":"quantitative","scale":{"domain":[0,100],"nice":false,"zero":false},"axis":null},"y2":{"field":"y2"}}},
    {"data":{"name":"barr"},"transform":[{"filter":"datum.p=='P6'"}],"mark":{"type":"point","shape":"triangle-up","filled":true,"size":22,"color":"#000000","opacity":1},
     "encoding":{"x":{"field":"e2","type":"quantitative","scale":{"domain":[281.1,291.95],"reverse":true,"nice":false,"zero":false},"axis":{"values":[291,288,285,282],"title":null,"labelFontSize":12,"tickSize":2,"labelPadding":0}},"y":{"field":"y2","type":"quantitative","scale":{"domain":[0,100],"nice":false,"zero":false},"axis":null},"angle":{"field":"a","type":"quantitative","scale":null}}}
   ]}
 ],"columns":2,"spacing":0,"bounds":"flush","align":"each","resolve":{"scale":{"color":"independent"}}}
],
"columns":2,
"spacing":-1,
"align":"none"
}
